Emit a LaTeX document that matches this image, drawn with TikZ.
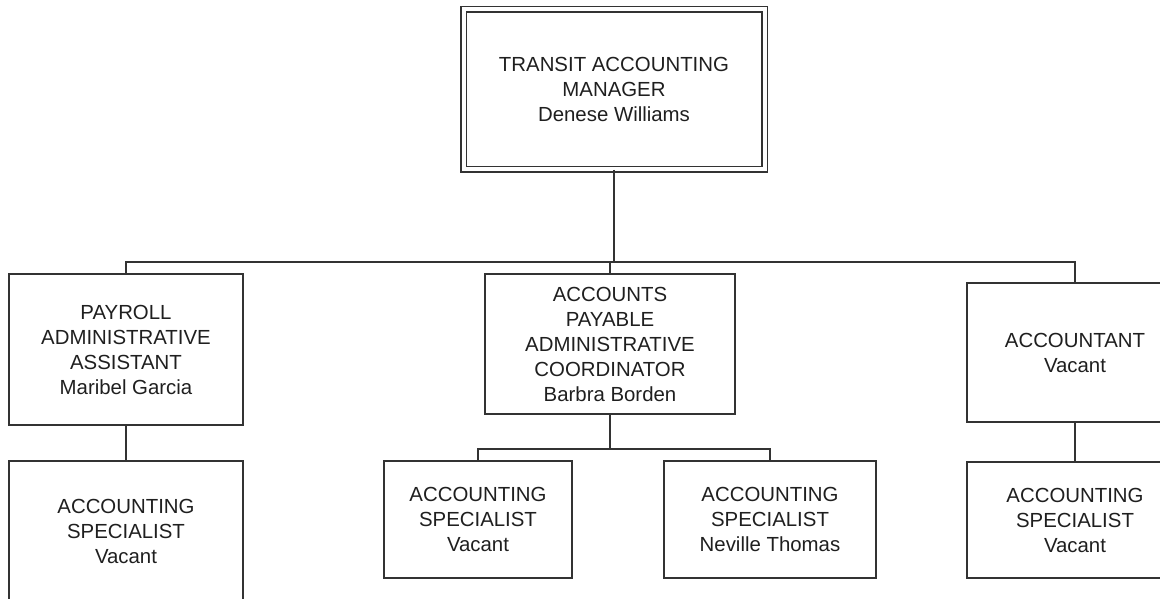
\documentclass[tikz,border=0pt]{standalone}
\usepackage{fontspec}
\setmainfont{Liberation Sans}
\begin{document}
\begin{tikzpicture}[x=1pt,y=-1pt,
  every node/.style={font=\fontsize{20.4}{25}\selectfont, text=black!88, align=center},
  post/.style={draw=black!80, line width=1.6pt, rectangle, inner sep=0pt},
  headpost/.style={draw=black!80, line width=1.5pt, double=white, double distance=4pt, rectangle, inner sep=0pt},
  link/.style={draw=black!80, line width=1.6pt}]
\clip (0,0) rectangle (1160,598);
\useasboundingbox (0,0) rectangle (1160,598);

% manager
\node[headpost, minimum width=301pt, minimum height=160pt] (mgr) at (614,89)
  {TRANSIT ACCOUNTING\\MANAGER\\Denese Williams};

% second level
\node[post, minimum width=234pt, minimum height=151pt] (pay) at (126,349.5)
  {PAYROLL\\ADMINISTRATIVE\\ASSISTANT\\Maribel Garcia};
\node[post, minimum width=250pt, minimum height=140pt] (ap) at (610,344)
  {ACCOUNTS\\PAYABLE\\ADMINISTRATIVE\\COORDINATOR\\Barbra Borden};
\node[post, minimum width=216pt, minimum height=139pt] (acct) at (1075,352.5)
  {ACCOUNTANT\\Vacant};

% third level
\node[post, minimum width=234pt, minimum height=140pt] (pay2) at (126,531)
  {ACCOUNTING\\SPECIALIST\\Vacant};
\node[post, minimum width=188pt, minimum height=117pt] (ap1) at (478,519.5)
  {ACCOUNTING\\SPECIALIST\\Vacant};
\node[post, minimum width=212pt, minimum height=117pt] (ap2) at (770,519.5)
  {ACCOUNTING\\SPECIALIST\\Neville Thomas};
\node[post, minimum width=216pt, minimum height=116pt] (acct2) at (1075,520)
  {ACCOUNTING\\SPECIALIST\\Vacant};

% connectors
\coordinate (bus) at (614,262);
\coordinate (sub) at (610,449);
\draw[link] (mgr.south) -- (bus);
\draw[link] (pay.north) |- (bus) -| (acct.north);
\draw[link] (ap.north) -- (ap.north |- bus);
\draw[link] (ap.south) -- (sub);
\draw[link] (ap1.north) |- (sub) -| (ap2.north);
\draw[link] (pay.south) -- (pay2.north);
\draw[link] (acct.south) -- (acct2.north);
\end{tikzpicture}
\end{document}
